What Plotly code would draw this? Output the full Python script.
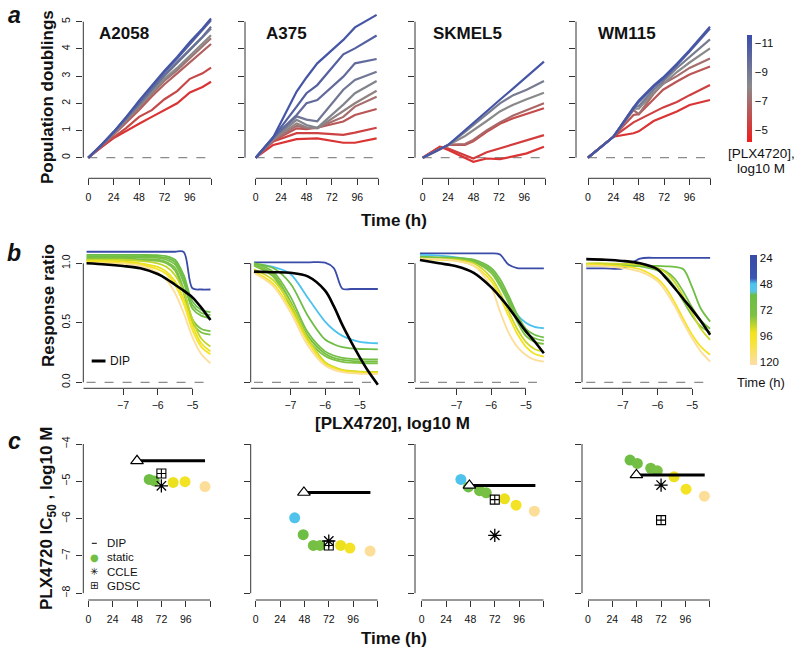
import plotly.graph_objects as go

W, H = 800, 656
FONT = "Liberation Sans, Arial, Helvetica, sans-serif"
CELL_LINES = ["A2058", "A375", "SKMEL5", "WM115"]

# ---------------- panel a : population doublings ----------------
A2058_T = [0, 12, 24, 36, 48, 60, 72, 84, 96, 108, 116]
A2058_LOGC = [-11, -10.25, -9.5, -8.75, -8, -7.25, -6.5, -5.75, -5]
A2058_PD = [
    [0, 0.45, 0.95, 1.50, 2.10, 2.65, 3.20, 3.70, 4.25, 4.75, 5.12],
    [0, 0.45, 0.95, 1.50, 2.08, 2.62, 3.15, 3.65, 4.18, 4.68, 5.05],
    [0, 0.45, 0.93, 1.45, 2.00, 2.52, 3.05, 3.52, 4.00, 4.45, 4.82],
    [0, 0.45, 0.92, 1.43, 1.97, 2.48, 3.00, 3.47, 3.95, 4.40, 4.75],
    [0, 0.44, 0.90, 1.40, 1.90, 2.40, 2.90, 3.30, 3.75, 4.20, 4.50],
    [0, 0.43, 0.88, 1.37, 1.85, 2.35, 2.83, 3.22, 3.65, 4.10, 4.39],
    [0, 0.42, 0.85, 1.30, 1.75, 2.25, 2.70, 3.10, 3.50, 3.90, 4.18],
    [0, 0.38, 0.75, 1.10, 1.50, 1.75, 2.15, 2.45, 2.90, 3.10, 3.31],
    [0, 0.38, 0.72, 1.00, 1.25, 1.50, 1.75, 2.00, 2.40, 2.60, 2.79],
]
A375_T = [0, 16.6, 38.7, 48, 58.2, 82.8, 93.8, 114.3]
A375_LOGC = [-11, -10.4, -9.8, -9.1, -8.3, -7.7, -7.0, -6.2, -5.5, -5]
A375_PD = [
    [0, 0.75, 2.43, 2.95, 3.47, 4.33, 4.79, 5.25],
    [0, 0.75, 1.88, 2.37, 2.67, 3.80, 4.02, 4.49],
    [0, 0.75, 1.57, 2.00, 2.12, 2.98, 3.47, 3.63],
    [0, 0.72, 1.52, 1.40, 1.34, 2.50, 2.86, 3.16],
    [0, 0.70, 1.39, 1.20, 1.10, 1.95, 2.37, 2.82],
    [0, 0.68, 1.26, 1.12, 1.08, 1.70, 2.00, 2.46],
    [0, 0.65, 1.17, 1.10, 1.10, 1.50, 1.88, 2.24],
    [0, 0.62, 1.08, 1.05, 1.10, 1.33, 1.57, 1.79],
    [0, 0.60, 0.90, 0.90, 0.90, 0.84, 0.92, 1.10],
    [0, 0.47, 0.68, 0.70, 0.71, 0.55, 0.55, 0.71],
]
SKMEL5_T = [0, 16.3, 24.2, 40, 47.8, 60.5, 73, 85.6, 98.3, 114.6]
SKMEL5_LOGC = [-11, -8.8, -8.0, -6.8, -5.8, -5.3, -5]
SKMEL5_PD = [
    [0, 0.30, 0.47, 1.01, 1.28, 1.70, 2.13, 2.55, 2.98, 3.53],
    [0, 0.30, 0.47, 0.95, 1.20, 1.60, 2.00, 2.30, 2.50, 2.82],
    [0, 0.30, 0.47, 0.80, 1.00, 1.35, 1.70, 1.95, 2.15, 2.39],
    [0, 0.32, 0.47, 0.50, 0.65, 1.00, 1.30, 1.55, 1.75, 2.00],
    [0, 0.33, 0.47, 0.47, 0.60, 0.95, 1.25, 1.45, 1.62, 1.82],
    [0, 0.40, 0.34, 0.10, -0.03, 0.20, 0.34, 0.50, 0.65, 0.83],
    [0, 0.40, 0.28, 0.00, -0.15, -0.03, -0.05, 0.05, 0.16, 0.40],
]
WM115_T = [0, 24, 43, 48, 62, 71, 84, 96, 115.3]
WM115_LOGC = [-11, -10.5, -8.8, -8.0, -7.0, -6.2, -5.4, -5]
WM115_PD = [
    [0, 0.77, 1.85, 2.10, 2.65, 2.95, 3.45, 3.95, 4.82],
    [0, 0.77, 1.80, 2.05, 2.60, 2.90, 3.40, 3.90, 4.75],
    [0, 0.77, 1.85, 1.90, 2.50, 2.80, 3.30, 3.70, 4.35],
    [0, 0.77, 1.80, 1.80, 2.40, 2.70, 3.15, 3.50, 4.02],
    [0, 0.77, 1.75, 1.60, 2.35, 2.72, 3.00, 3.30, 3.65],
    [0, 0.77, 1.57, 1.60, 2.15, 2.50, 2.80, 3.06, 3.35],
    [0, 0.77, 1.30, 1.40, 1.70, 1.85, 2.05, 2.30, 2.67],
    [0, 0.77, 0.90, 0.97, 1.35, 1.50, 1.70, 1.94, 2.12],
]

# ---------------- panel b : response ratio vs log10 [PLX4720] ----------------
B_LOGC = [-8.05, -7.5, -7.0, -6.5, -6.0, -5.75, -5.5, -5.25, -5.0, -4.75, -4.48]
A2058_RT = [24, 60, 64, 68, 72, 76, 86, 92, 98, 120]
A2058_RR = [
    [1.097, 1.097, 1.097, 1.097, 1.097, 1.097, 1.097, 1.095, 0.79, 0.78, 0.78],
    [1.07, 1.07, 1.07, 1.07, 1.068, 1.06, 1.03, 0.90, 0.68, 0.61, 0.59],
    [1.06, 1.06, 1.06, 1.06, 1.055, 1.045, 1.01, 0.87, 0.65, 0.585, 0.565],
    [1.05, 1.05, 1.05, 1.05, 1.045, 1.03, 0.99, 0.84, 0.62, 0.56, 0.54],
    [1.04, 1.04, 1.04, 1.035, 1.03, 1.01, 0.96, 0.78, 0.53, 0.45, 0.43],
    [1.03, 1.03, 1.03, 1.025, 1.02, 1.00, 0.94, 0.75, 0.50, 0.42, 0.40],
    [1.03, 1.03, 1.03, 1.02, 1.00, 0.97, 0.90, 0.76, 0.53, 0.37, 0.30],
    [1.02, 1.02, 1.015, 1.00, 0.97, 0.93, 0.85, 0.70, 0.48, 0.33, 0.26],
    [1.01, 1.01, 1.00, 0.99, 0.95, 0.91, 0.82, 0.66, 0.44, 0.30, 0.235],
    [1.00, 1.00, 0.995, 0.98, 0.92, 0.86, 0.75, 0.58, 0.38, 0.24, 0.16],
]
A2058_DIP = [1.00, 0.99, 0.977, 0.958, 0.91, 0.87, 0.82, 0.77, 0.714, 0.63, 0.523]

A375_RT = [24, 48, 62, 68, 72, 76, 88, 96, 120]
A375_RR = [
    [1.008, 1.008, 1.008, 1.008, 1.006, 0.96, 0.786, 0.784, 0.784, 0.784, 0.784],
    [0.99, 0.97, 0.91, 0.71, 0.51, 0.44, 0.39, 0.36, 0.34, 0.332, 0.328],
    [1.00, 0.96, 0.83, 0.56, 0.36, 0.32, 0.295, 0.285, 0.28, 0.278, 0.277],
    [1.00, 0.93, 0.72, 0.42, 0.26, 0.225, 0.205, 0.197, 0.194, 0.193, 0.193],
    [0.99, 0.91, 0.68, 0.39, 0.24, 0.205, 0.188, 0.18, 0.177, 0.175, 0.175],
    [0.98, 0.89, 0.64, 0.36, 0.22, 0.19, 0.172, 0.165, 0.162, 0.16, 0.16],
    [0.95, 0.86, 0.66, 0.37, 0.17, 0.13, 0.105, 0.095, 0.09, 0.088, 0.087],
    [0.93, 0.83, 0.62, 0.34, 0.155, 0.12, 0.098, 0.088, 0.083, 0.08, 0.08],
    [0.92, 0.81, 0.59, 0.31, 0.14, 0.105, 0.085, 0.077, 0.072, 0.07, 0.07],
]
A375_DIP = [0.93, 0.925, 0.92, 0.89, 0.77, 0.64, 0.48, 0.34, 0.21, 0.09, -0.02]

SKMEL5_RT = [24, 48, 64, 70, 76, 88, 96, 120]
SKMEL5_RR = [
    [1.084, 1.084, 1.084, 1.084, 1.083, 1.075, 0.99, 0.96, 0.958, 0.958, 0.958],
    [1.07, 1.065, 1.05, 1.02, 0.94, 0.83, 0.70, 0.57, 0.50, 0.465, 0.454],
    [1.055, 1.05, 1.045, 1.03, 0.96, 0.87, 0.73, 0.57, 0.45, 0.40, 0.378],
    [1.05, 1.045, 1.04, 1.02, 0.94, 0.84, 0.70, 0.54, 0.42, 0.37, 0.35],
    [1.045, 1.04, 1.035, 1.01, 0.92, 0.81, 0.67, 0.51, 0.39, 0.34, 0.322],
    [1.04, 1.035, 1.03, 1.00, 0.88, 0.76, 0.60, 0.45, 0.34, 0.28, 0.258],
    [1.035, 1.03, 1.02, 0.98, 0.85, 0.72, 0.56, 0.41, 0.30, 0.24, 0.216],
    [1.04, 1.035, 1.02, 0.98, 0.80, 0.60, 0.42, 0.30, 0.23, 0.19, 0.174],
]
SKMEL5_DIP = [1.028, 1.00, 0.975, 0.92, 0.80, 0.72, 0.63, 0.53, 0.43, 0.345, 0.244]

WM115_RT = [24, 64, 70, 76, 88, 96, 120]
WM115_RR = [
    [0.958, 0.958, 0.958, 1.04, 1.045, 1.045, 1.045, 1.045, 1.045, 1.045, 1.045],
    [0.98, 0.98, 0.98, 0.98, 0.978, 0.975, 0.97, 0.95, 0.80, 0.62, 0.51],
    [0.99, 0.99, 0.985, 0.98, 0.96, 0.93, 0.87, 0.76, 0.63, 0.52, 0.45],
    [0.995, 0.99, 0.985, 0.975, 0.94, 0.89, 0.80, 0.68, 0.56, 0.47, 0.42],
    [1.00, 1.00, 0.995, 0.99, 0.96, 0.92, 0.84, 0.72, 0.58, 0.45, 0.357],
    [0.99, 0.985, 0.975, 0.95, 0.87, 0.79, 0.67, 0.53, 0.40, 0.30, 0.231],
    [0.98, 0.975, 0.96, 0.93, 0.85, 0.76, 0.64, 0.50, 0.37, 0.26, 0.174],
]
WM115_DIP = [1.035, 1.03, 1.02, 1.00, 0.95, 0.875, 0.79, 0.70, 0.61, 0.515, 0.40]

# ---------------- panel c : IC50 estimates ----------------
A2058_IC_T = [60, 65, 83.6, 95.3, 115]
A2058_IC = [-4.95, -4.99, -5.03, -5.01, -5.14]
A2058_IC_CT = [62, 66, 92, 96, 120]
A375_IC_T = [38.4, 46.8, 56.8, 63.4, 83.7, 92.8, 112.7]
A375_IC = [-5.98, -6.43, -6.72, -6.72, -6.72, -6.79, -6.87]
A375_IC_CT = [50, 62, 68, 72, 92, 96, 120]
SKMEL5_IC_T = [38.6, 46, 57, 63.6, 81.6, 93, 111]
SKMEL5_IC = [-4.95, -5.15, -5.25, -5.31, -5.47, -5.64, -5.80]
SKMEL5_IC_CT = [50, 62, 68, 72, 92, 96, 120]
WM115_IC_T = [41.4, 48.6, 61.8, 68.3, 84.8, 96.6, 114.7]
WM115_IC = [-4.43, -4.52, -4.65, -4.72, -4.88, -5.21, -5.40]
WM115_IC_CT = [62, 66, 70, 74, 92, 96, 120]

DIP_IC50 = [-4.45, -5.30, -5.11, -4.83]
DIP_T_START = [48, 47.5, 47, 47.7]
DIP_T_END = [115, 113, 112, 115]
CCLE_T = [72, 72, 72, 72]
CCLE_IC50 = [-5.12, -6.60, -6.45, -5.10]
GDSC_T = [72, 72, 72, 72]
GDSC_IC50 = [-4.79, -6.72, -5.49, -6.04]

A_T = [A2058_T, A375_T, SKMEL5_T, WM115_T]
A_LOGC = [A2058_LOGC, A375_LOGC, SKMEL5_LOGC, WM115_LOGC]
A_PD = [A2058_PD, A375_PD, SKMEL5_PD, WM115_PD]
B_RT = [A2058_RT, A375_RT, SKMEL5_RT, WM115_RT]
B_RR = [A2058_RR, A375_RR, SKMEL5_RR, WM115_RR]
B_DIP = [A2058_DIP, A375_DIP, SKMEL5_DIP, WM115_DIP]
C_T = [A2058_IC_T, A375_IC_T, SKMEL5_IC_T, WM115_IC_T]
C_IC = [A2058_IC, A375_IC, SKMEL5_IC, WM115_IC]
C_CT = [A2058_IC_CT, A375_IC_CT, SKMEL5_IC_CT, WM115_IC_CT]

# ---------------- colour scales ----------------
CONC_CMIN, CONC_CMAX = 4.17, 11.55      # -log10 M shown on colour bar
CONC_SCALE = [[0.0, "#F01C1C"], [0.52, "#8A8A8A"], [1.0, "#3A4CAB"]]
TIME_TOP, TIME_BOT = 21.5, 123.0
TIME_STOPS = [(21.5, "#3A4AA6"), (43, "#3C56B4"), (48, "#4CC2EE"), (55, "#57C6E4"),
              (58.5, "#6BBD45"), (77, "#7CC143"), (93, "#F3E31C"), (101, "#F6E430"),
              (123, "#FDDDAA")]
TIME_SCALE = sorted([[(TIME_BOT - t) / (TIME_BOT - TIME_TOP), c] for t, c in TIME_STOPS])


def hex2rgb(h):
    h = h.lstrip("#")
    return tuple(int(h[k:k + 2], 16) for k in (0, 2, 4))


def scale_color(scale, p):
    p = min(max(p, 0.0), 1.0)
    for (p0, c0), (p1, c1) in zip(scale[:-1], scale[1:]):
        if p <= p1:
            f = 0 if p1 == p0 else (p - p0) / (p1 - p0)
            a, b = hex2rgb(c0), hex2rgb(c1)
            return "rgb(%d,%d,%d)" % tuple(round(a[k] + (b[k] - a[k]) * f) for k in range(3))
    return scale[-1][1]


def conc_color(logc):
    return scale_color(CONC_SCALE, (-logc - CONC_CMIN) / (CONC_CMAX - CONC_CMIN))


def time_color(t):
    return scale_color(TIME_SCALE, (TIME_BOT - t) / (TIME_BOT - TIME_TOP))


# ---------------- geometry (pixels) ----------------
YL_A = [83.3, 245.0, 415.0, 576.0]
X0_A = [88.3, 255.7, 422.7, 588.0]
SX_A = 1.058
YL_BC = [83.3, 250.7, 415.0, 582.0]
X0_BC = [88.3, 255.7, 421.7, 588.0]
SX_B = 34.7
SX_C = 1.015
AXC = "#333333"
TICKFONT = dict(family=FONT, size=10.5, color="#111111")

fig = go.Figure()
layout = dict(width=W, height=H, margin=dict(l=0, r=0, t=0, b=0),
              paper_bgcolor="white", plot_bgcolor="white", showlegend=False,
              font=dict(family=FONT, color="#111111"), hovermode=False)
shapes, annotations = [], []


def nm(i):
    return "" if i == 1 else str(i)


def make_axes(i, xl, xr, yt, yb, xf, yf, xt, xend, yt_vals, ytt, show_y, xstand=3):
    n = nm(i)
    xa = dict(domain=[xl / W, xr / W], range=[xf(xl), xf(xr)], anchor="y" + n,
              tickvals=xt, ticktext=[str(v).replace("-", "−") for v in xt], ticks="outside",
              ticklen=6, tickwidth=1, tickcolor=AXC, showgrid=False, zeroline=False, showline=False,
              tickfont=TICKFONT, ticklabelstandoff=xstand)
    if xend is not None:
        xa["minor"] = dict(tickvals=[xend], ticks="outside", ticklen=6, tickwidth=1, tickcolor=AXC,
                           showgrid=False)
    layout["xaxis" + n] = xa
    layout["yaxis" + n] = dict(domain=[1 - yb / H, 1 - yt / H], range=[yf(yb), yf(yt)], anchor="x" + n,
                               tickvals=yt_vals, ticktext=ytt, ticks="outside", ticklen=6, tickwidth=1,
                               tickcolor=AXC, showgrid=False, zeroline=False, showline=False,
                               tickangle=-90, tickfont=TICKFONT, showticklabels=show_y,
                               ticklabelstandoff=2)


def axis_lines(i, xa, xb, ya, yb):
    n = nm(i)
    shapes.append(dict(type="line", xref="x" + n, yref="y" + n + " domain", x0=xa, x1=xb, y0=0, y1=0,
                       line=dict(color=AXC, width=1)))
    shapes.append(dict(type="line", xref="x" + n + " domain", yref="y" + n, x0=0, x1=0, y0=ya, y1=yb,
                       line=dict(color=AXC, width=1)))


def zero_dash(i, xa, xb):
    n = nm(i)
    shapes.append(dict(type="line", xref="x" + n, yref="y" + n, x0=xa, x1=xb, y0=0, y1=0, layer="below",
                       line=dict(color="#8C8C8C", width=1.3, dash="dash")))


for c in range(4):
    # ---- panel a ----
    i = c + 1
    x0 = X0_A[c]
    make_axes(i, YL_A[c], x0 + 124 * SX_A, 8, 178.3,
              lambda px, x0=x0: (px - x0) / SX_A, lambda py: (157.7 - py) / 27.2,
              [0, 24, 48, 72, 96], 116,
              [0, 1, 2, 3, 4, 5], ["0", "1", "2", "3", "4", "5"], c == 0)
    axis_lines(i, 0, 116, 0, 5)
    zero_dash(i, 0, 116)
    for logc, pd_ in reversed(list(zip(A_LOGC[c], A_PD[c]))):
        fig.add_trace(go.Scatter(x=A_T[c], y=pd_, mode="lines", xaxis="x" + nm(i), yaxis="y" + nm(i),
                                 line=dict(color=conc_color(logc), width=2.2), showlegend=False))
    annotations.append(dict(x=8, y=4.58, xref="x" + nm(i), yref="y" + nm(i), text="<b>%s</b>" % CELL_LINES[c],
                            showarrow=False, xanchor="left", yanchor="middle",
                            font=dict(family=FONT, size=17, color="#111111")))

    # ---- panel b ----
    i = c + 5
    x0 = X0_BC[c]
    make_axes(i, YL_BC[c], x0 + 3.65 * SX_B, 245, 388.3,
              lambda px, x0=x0: -8 + (px - x0) / SX_B, lambda py: (382.3 - py) / 119.0,
              [-7, -6, -5], None,
              [0, 0.5, 1.0], ["0.0", "0.5", "1.0"], c == 0, xstand=1)
    xlo = -8 + (YL_BC[c] - x0) / SX_B
    axis_lines(i, xlo, -5, 0, 1)
    zero_dash(i, -8.05, -4.48)
    for t, rr in zip(B_RT[c], B_RR[c]):
        fig.add_trace(go.Scatter(x=B_LOGC, y=rr, mode="lines", xaxis="x" + nm(i), yaxis="y" + nm(i),
                                 line=dict(color=time_color(t), width=1.8, shape="spline", smoothing=0.9),
                                 showlegend=False))
    fig.add_trace(go.Scatter(x=B_LOGC, y=B_DIP[c], mode="lines", xaxis="x" + nm(i), yaxis="y" + nm(i),
                             line=dict(color="black", width=2.6, shape="spline", smoothing=0.9),
                             showlegend=False))

    # ---- panel c ----
    i = c + 9
    make_axes(i, YL_BC[c], x0 + 124 * SX_C, 428, 600,
              lambda px, x0=x0: (px - x0) / SX_C, lambda py: -4 + (444 - py) / 37.3,
              [0, 24, 48, 72, 96], 120,
              [-8, -7, -6, -5, -4], ["−8", "−7", "−6", "−5", "−4"], c == 0)
    axis_lines(i, 0, 120, -8, -4)
    fig.add_trace(go.Scatter(x=C_T[c], y=C_IC[c], mode="markers", xaxis="x" + nm(i), yaxis="y" + nm(i),
                             marker=dict(size=11, color=[time_color(t) for t in C_CT[c]], line=dict(width=0)),
                             showlegend=False))
    fig.add_trace(go.Scatter(x=[DIP_T_START[c], DIP_T_END[c]], y=[DIP_IC50[c], DIP_IC50[c]], mode="lines",
                             xaxis="x" + nm(i), yaxis="y" + nm(i), line=dict(color="black", width=3),
                             showlegend=False))
    fig.add_trace(go.Scatter(x=[DIP_T_START[c]], y=[DIP_IC50[c]], mode="markers",
                             xaxis="x" + nm(i), yaxis="y" + nm(i),
                             marker=dict(symbol="triangle-up", size=11, color="white",
                                         line=dict(color="black", width=1.2)), showlegend=False))
    fig.add_trace(go.Scatter(x=[CCLE_T[c]], y=[CCLE_IC50[c]], mode="markers",
                             xaxis="x" + nm(i), yaxis="y" + nm(i),
                             marker=dict(symbol="asterisk-open", size=11, color="black",
                                         line=dict(color="black", width=1.3)), showlegend=False))
    fig.add_trace(go.Scatter(x=[GDSC_T[c]], y=[GDSC_IC50[c]], mode="markers",
                             xaxis="x" + nm(i), yaxis="y" + nm(i),
                             marker=dict(symbol="square-cross-open", size=9, color="black",
                                         line=dict(color="black", width=1.1)), showlegend=False))

# ---------------- colour bars ----------------
fig.add_trace(go.Scatter(
    x=[None, None], y=[None, None], mode="markers", xaxis="x4", yaxis="y4", showlegend=False,
    marker=dict(color=[CONC_CMIN, CONC_CMAX], cmin=CONC_CMIN, cmax=CONC_CMAX, colorscale=CONC_SCALE,
                showscale=True,
                colorbar=dict(thickness=5, thicknessmode="pixels", len=107, lenmode="pixels",
                              x=747 / W, xanchor="left", xpad=0, y=1 - 88.5 / H, yanchor="middle", ypad=0,
                              outlinewidth=0, ticks="", tickvals=[11, 9, 7, 5],
                              ticktext=["−11", "−9", "−7", "−5"],
                              tickfont=dict(family=FONT, size=11.5, color="#111111")))))
fig.add_trace(go.Scatter(
    x=[None, None], y=[None, None], mode="markers", xaxis="x8", yaxis="y8", showlegend=False,
    marker=dict(color=[-TIME_BOT, -TIME_TOP], cmin=-TIME_BOT, cmax=-TIME_TOP, colorscale=TIME_SCALE,
                showscale=True,
                colorbar=dict(thickness=7, thicknessmode="pixels", len=110, lenmode="pixels",
                              x=750 / W, xanchor="left", xpad=0, y=1 - 310 / H, yanchor="middle", ypad=0,
                              outlinewidth=0, ticks="", tickvals=[-24, -48, -72, -96, -120],
                              ticktext=["24", "48", "72", "96", "120"],
                              tickfont=dict(family=FONT, size=11.5, color="#111111")))))


# ---------------- texts ----------------
def txt(px, py, text, size, angle=0, xanchor="center", family=FONT, color="#111111"):
    annotations.append(dict(x=px / W, y=1 - py / H, xref="paper", yref="paper", text=text, showarrow=False,
                            xanchor=xanchor, yanchor="middle", textangle=angle,
                            font=dict(family=family, size=size, color=color)))


txt(14, 15, "<b><i>a</i></b>", 23)
txt(14, 253, "<b><i>b</i></b>", 23)
txt(14, 441, "<b><i>c</i></b>", 23)
txt(48, 97, "<b>Population doublings</b>", 17, -90)
txt(48, 306, "<b>Response ratio</b>", 17, -90)
txt(48, 519, "<b>PLX4720 IC<sub>50</sub> , log10 M</b>", 17, -90)
txt(394, 220, "<b>Time (h)</b>", 17)
txt(392, 423, "<b>[PLX4720], log10 M</b>", 17)
txt(394, 638, "<b>Time (h)</b>", 17)
txt(761, 153, "[PLX4720],", 13.5)
txt(761, 168, "log10 M", 13.5)
txt(761, 382, "Time (h)", 13)

# legend of panel b
shapes.append(dict(type="line", xref="paper", yref="paper", x0=91.7 / W, x1=105.5 / W,
                   y0=1 - 361 / H, y1=1 - 361 / H, line=dict(color="black", width=3)))
txt(108, 361, "DIP", 12, xanchor="left")
# legend of panel c
shapes.append(dict(type="line", xref="paper", yref="paper", x0=91.8 / W, x1=96.8 / W,
                   y0=1 - 543.3 / H, y1=1 - 543.3 / H, line=dict(color="black", width=1)))
txt(94.3, 557.3, "●", 10, color=time_color(66), family="DejaVu Sans")
txt(94.3, 571.7, "✳", 10, family="DejaVu Sans")
txt(94.3, 585.7, "⊞", 10, family="DejaVu Sans")
for py, label in zip([543.3, 557.3, 571.7, 585.7], ["DIP", "static", "CCLE", "GDSC"]):
    txt(105, py, label, 11.5, xanchor="left")

layout["shapes"] = shapes
layout["annotations"] = annotations
fig.update_layout(**layout)
fig.write_html("out.html", config={"displayModeBar": False},
               post_script="document.body.style.margin='0px';document.body.style.padding='0px';")
